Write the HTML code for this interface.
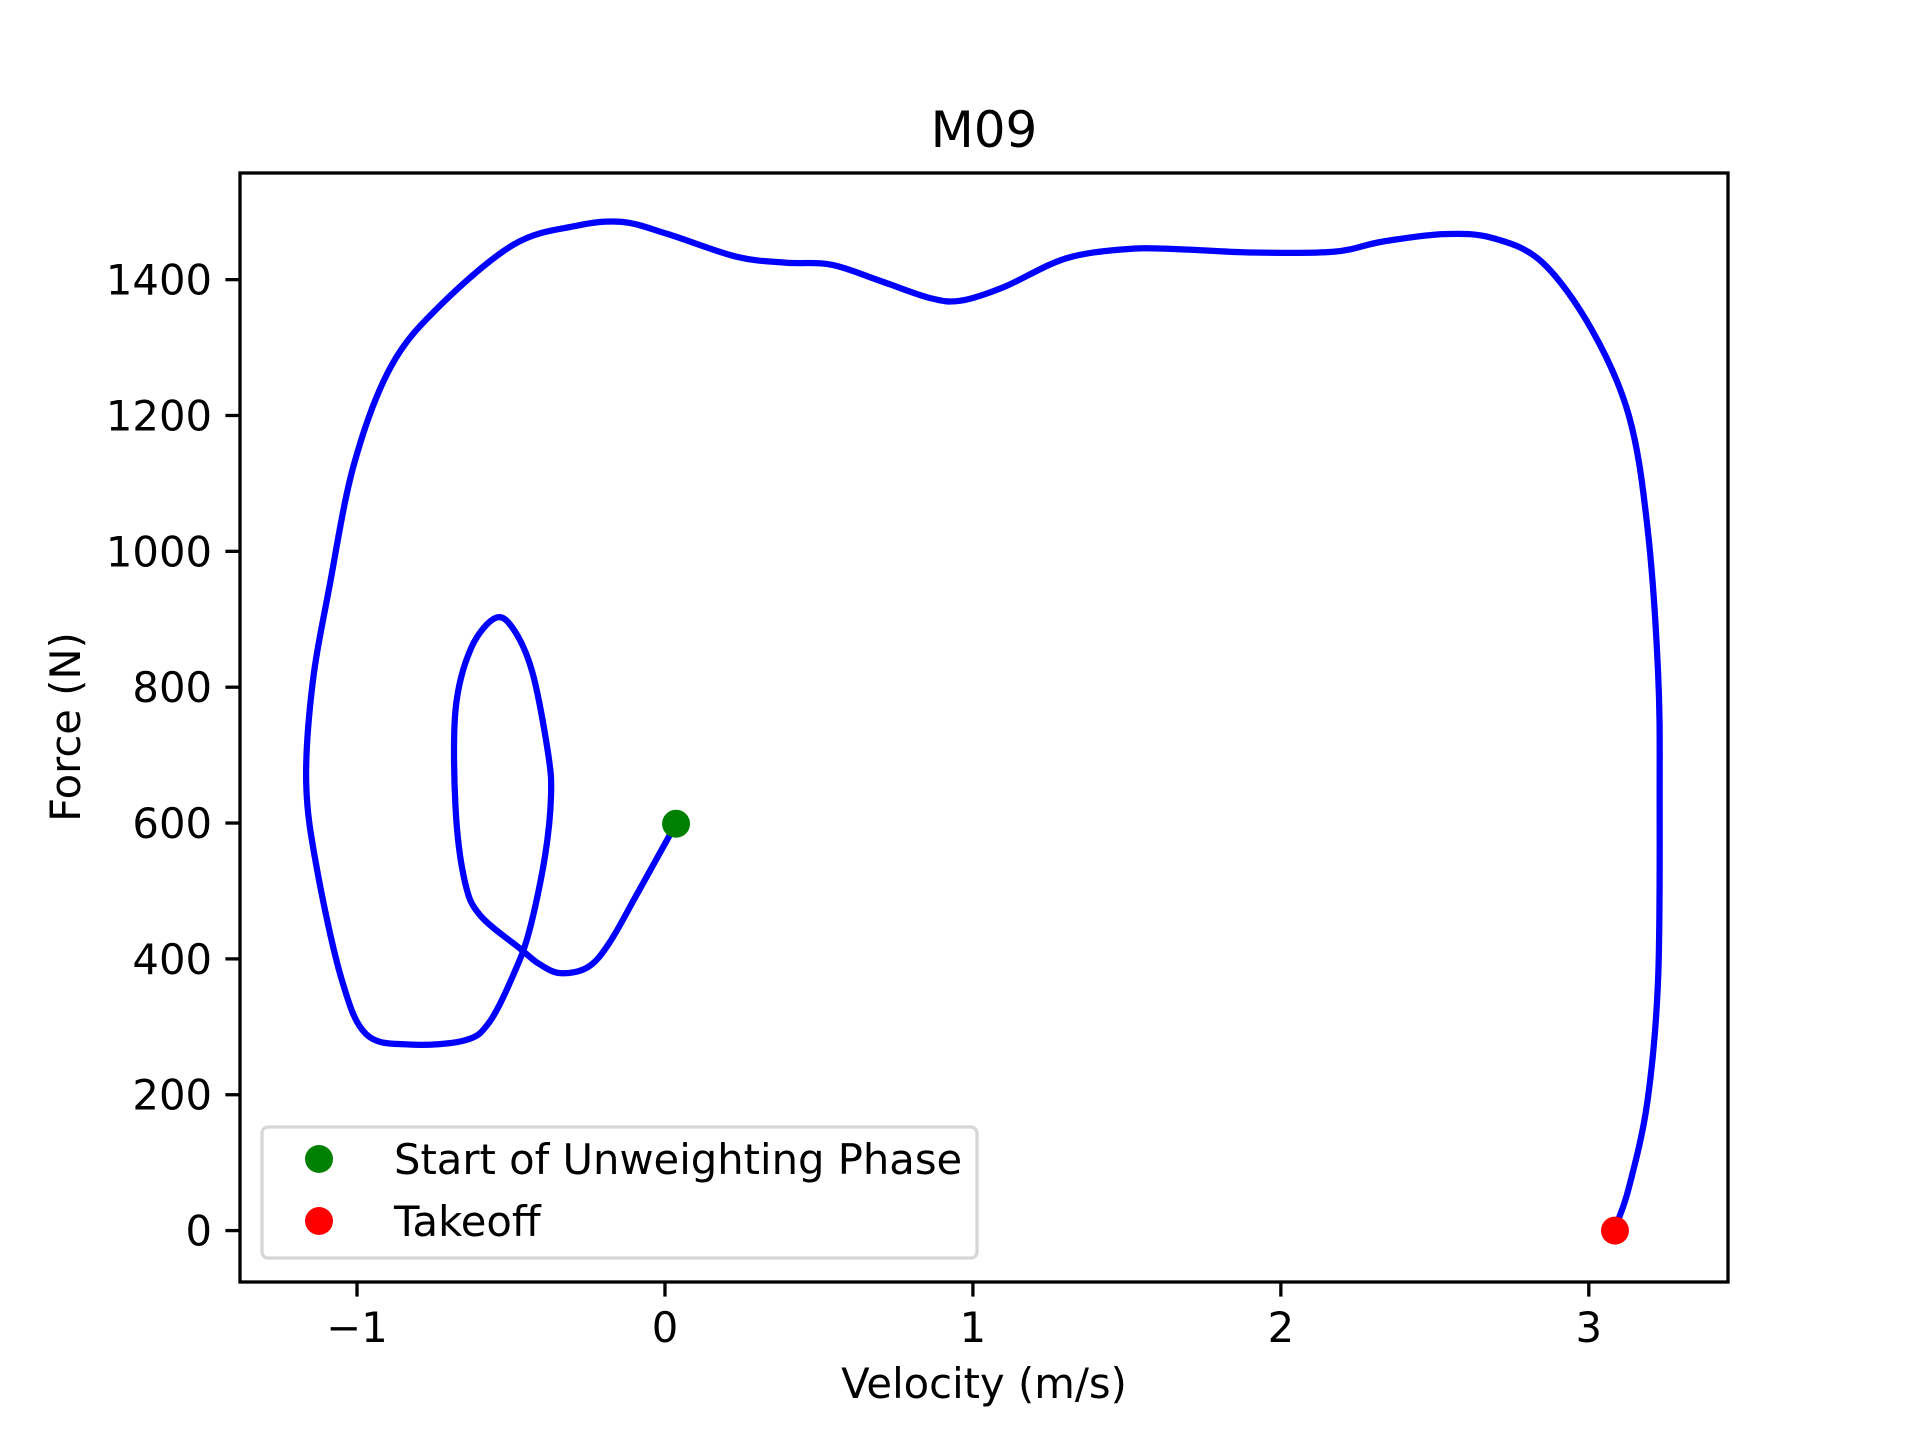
<!DOCTYPE html>
<html><head><meta charset="utf-8"><style>
html,body{margin:0;padding:0;background:#fff;}
svg{display:block;font-family:"DejaVu Sans","Liberation Sans",sans-serif;}
</style></head><body>
<svg id="chart" width="1920" height="1440" viewBox="0 0 1920 1440">
<rect x="0" y="0" width="1920" height="1440" fill="#fff"/>
<text x="984" y="147" font-size="50" text-anchor="middle">M09</text>
<g id="plot"></g>
<text x="984" y="1398" font-size="41.7" text-anchor="middle">Velocity (m/s)</text>
<text transform="translate(80,727) rotate(-90)" font-size="41.7" text-anchor="middle">Force (N)</text>
</svg>
<script>
const velocity = [0.036,-0.09,-0.18,-0.25,-0.34,-0.41,-0.47,-0.60,-0.65,-0.68,-0.68,-0.63,-0.55,-0.49,-0.43,-0.38,-0.37,-0.39,-0.44,-0.49,-0.57,-0.65,-0.83,-0.97,-1.05,-1.13,-1.165,-1.145,-1.09,-1.01,-0.89,-0.73,-0.49,-0.29,-0.14,0.01,0.23,0.39,0.54,0.70,0.86,0.96,1.10,1.30,1.50,1.66,1.90,2.17,2.33,2.53,2.69,2.85,3.01,3.13,3.19,3.225,3.23,3.225,3.19,3.13,3.09,3.085];
const force = [599,496,424,388,379,393,415,464,514,622,767,857,902,884,821,704,640,550,442,379,307,280,274,289,370,532,658,803,947,1128,1272,1362,1452,1479,1485,1467,1434,1425,1422,1398,1373,1369,1389,1431,1445,1445,1440,1441,1456,1467,1461,1425,1326,1200,1037,821,640,370,189,63,9,0];
const xTicks = [-1,0,1,2,3];
const xTickLabels = ["\u22121","0","1","2","3"];
const yTicks = [0,200,400,600,800,1000,1200,1400];
const yTickLabels = ["0","200","400","600","800","1000","1200","1400"];
const startPoint = [0.036,599];
const takeoffPoint = [3.085,0];

const L=240,R=1728,T=173,B=1282;
const xMin=-1.38,xMax=3.452,yMin=-75.7,yMax=1557;
const sx=v=>L+(v-xMin)/(xMax-xMin)*(R-L);
const sy=v=>B-(v-yMin)/(yMax-yMin)*(B-T);
const NS="http://www.w3.org/2000/svg";
const g=document.getElementById('plot');
function mk(tag,attrs){const e=document.createElementNS(NS,tag);for(const k in attrs)e.setAttribute(k,attrs[k]);return e;}

const P=velocity.map((v,i)=>[sx(v),sy(force[i])]);
let d=`M${P[0][0]},${P[0][1]}`;
for(let i=0;i<P.length-1;i++){
  const p0=P[Math.max(0,i-1)],p1=P[i],p2=P[i+1],p3=P[Math.min(P.length-1,i+2)];
  const c1=[p1[0]+(p2[0]-p0[0])/6,p1[1]+(p2[1]-p0[1])/6];
  const c2=[p2[0]-(p3[0]-p1[0])/6,p2[1]-(p3[1]-p1[1])/6];
  d+=` C${c1[0]},${c1[1]} ${c2[0]},${c2[1]} ${p2[0]},${p2[1]}`;
}
const path=mk('path',{d:d,fill:'none',stroke:'#0000ff','stroke-width':6.25,'stroke-linejoin':'round','stroke-linecap':'butt'});


g.appendChild(path);

const s1=mk('circle',{cx:sx(startPoint[0]),cy:sy(startPoint[1]),r:14,fill:'#008000'});


g.appendChild(s1);
const s2=mk('circle',{cx:sx(takeoffPoint[0]),cy:sy(takeoffPoint[1]),r:14,fill:'#ff0000'});


g.appendChild(s2);

xTicks.forEach((t,i)=>{
  const x=sx(t);
  const ln=mk('line',{x1:x,x2:x,y1:B,y2:B+14.6,stroke:'#000','stroke-width':3.3});
  
  
  g.appendChild(ln);
  const tx=mk('text',{x:x,y:B+60,'font-size':41.7,'text-anchor':'middle'});
  tx.textContent=xTickLabels[i];
  
  
  g.appendChild(tx);
});
yTicks.forEach((t,i)=>{
  const y=sy(t);
  const ln=mk('line',{x1:L-14.6,x2:L,y1:y,y2:y,stroke:'#000','stroke-width':3.3});
  
  
  g.appendChild(ln);
  const tx=mk('text',{x:L-28,y:y+15,'font-size':41.7,'text-anchor':'end'});
  tx.textContent=yTickLabels[i];
  
  
  g.appendChild(tx);
});
const frame=mk('rect',{x:L,y:T,width:R-L,height:B-T,fill:'none',stroke:'#000','stroke-width':3.3});


g.appendChild(frame);

const lg=mk('g',{});


lg.appendChild(mk('rect',{x:262,y:1127,width:715,height:131,rx:6,fill:'#fff','fill-opacity':0.8,stroke:'#d6d6d6','stroke-width':3.3}));
const items=[['#008000','Start of Unweighting Phase',1159],['#ff0000','Takeoff',1221]];
items.forEach(it=>{
  const e=mk('g',{});
  
  
  e.appendChild(mk('circle',{cx:319,cy:it[2],r:14,fill:it[0]}));
  const t=mk('text',{x:394,y:it[2]+15,'font-size':41.7});
  t.textContent=it[1];
  e.appendChild(t);
  lg.appendChild(e);
});
g.appendChild(lg);
</script>
</body></html>
